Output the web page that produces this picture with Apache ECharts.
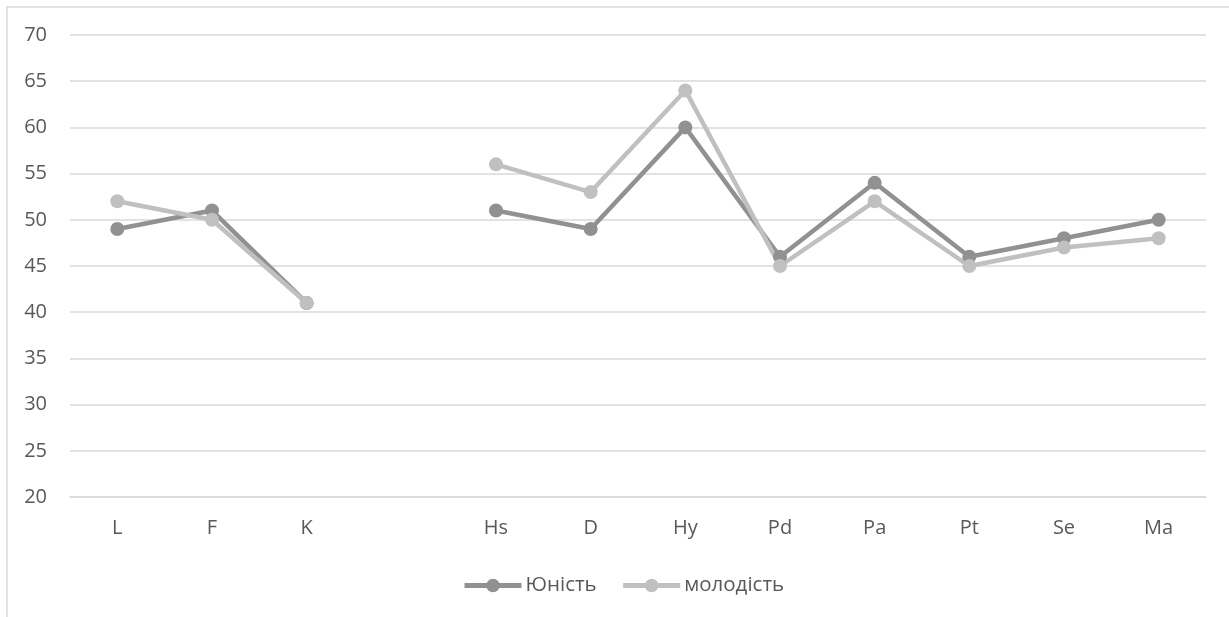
<!DOCTYPE html>
<html><head><meta charset="utf-8">
<script src="https://cdn.jsdelivr.net/npm/echarts@6/dist/echarts.min.js"></script>
<style>html,body{margin:0;padding:0;background:#fff}#c{width:1229px;height:617px}</style>
</head><body><div id="c"></div>
<script>
const categories = ['L','F','K','','Hs','D','Hy','Pd','Pa','Pt','Se','Ma'];
const youth = [49,51,41,null,51,49,60,46,54,46,48,50];
const young = [52,50,41,null,56,53,64,45,52,45,47,48];
const seriesNames = ['Юність','молодість'];
const yMin = 20, yMax = 70, yStep = 5;

const chart = echarts.init(document.getElementById('c'), null, {renderer:'canvas'});
const font = '"Open Sans", "Noto Sans", sans-serif';
chart.setOption({
  animation:false,
  textStyle:{fontFamily:font},
  graphic:[{type:'rect',shape:{x:7,y:7,width:1300,height:700},style:{fill:'none',stroke:'#d9d9d9',lineWidth:1.5},z:-10}],
  grid:{left:70,right:23,top:35,bottom:120},
  legend:{top:570,left:457,itemWidth:57,itemHeight:17,itemGap:24,
    lineStyle:{width:5},
    textStyle:{fontSize:20.5,color:'#595959',fontFamily:font,padding:[0,0,0,-1]},
    data:seriesNames},
  xAxis:{type:'category',data:categories,boundaryGap:true,
    axisLine:{show:true,lineStyle:{color:'#d9d9d9',width:1.5}},
    axisTick:{show:false},
    axisLabel:{fontSize:20,color:'#595959',margin:21,interval:0}},
  yAxis:{type:'value',min:yMin,max:yMax,interval:yStep,
    axisLine:{show:false},axisTick:{show:false},
    axisLabel:{fontSize:20,color:'#595959',margin:23},
    splitLine:{lineStyle:{color:'#d9d9d9',width:1.5}}},
  series:[
    {name:seriesNames[0],type:'line',data:youth,connectNulls:false,symbol:'circle',symbolSize:14,
     itemStyle:{color:'#919191'},lineStyle:{color:'#919191',width:4.5}},
    {name:seriesNames[1],type:'line',data:young,connectNulls:false,symbol:'circle',symbolSize:14,
     itemStyle:{color:'#c0c0c0'},lineStyle:{color:'#c0c0c0',width:4.5}}
  ]
});
</script></body></html>
